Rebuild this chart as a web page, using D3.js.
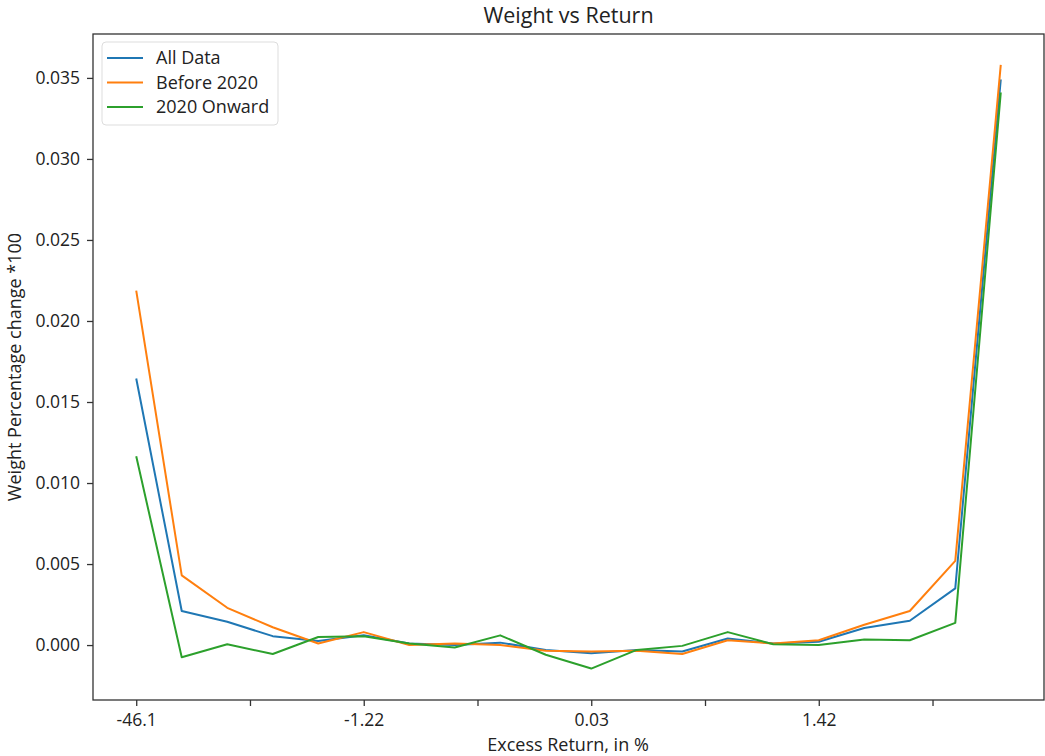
<!DOCTYPE html>
<html>
<head>
<meta charset="utf-8">
<script src="https://cdn.jsdelivr.net/npm/d3@7"></script>
<style>
  body { margin: 0; background: #fff; }
  text { font-family: "Open Sans", "Noto Sans", sans-serif; fill: #222; }
</style>
</head>
<body>
<div id="chart"></div>
<script>
// values, 20 return buckets
var allData = [0.01645, 0.0021, 0.00144, 0.00055, 0.00025, 0.0006, 0.0001, 0.0, 0.00015, -0.0003,
               -0.0005, -0.0003, -0.0004, 0.0004, 0.0001, 0.0002, 0.00105, 0.0015, 0.0035, 0.0349];
var before2020 = [0.02187, 0.0043, 0.0023, 0.0011, 0.0001, 0.0008, 0.0, 0.0001, 0.0, -0.00035,
                  -0.0004, -0.00035, -0.00055, 0.0003, 0.0001, 0.0003, 0.00125, 0.0021, 0.0052, 0.0358];
var onward2020 = [0.01165, -0.00075, 0.00005, -0.00055, 0.0005, 0.00055, 0.0001, -0.00015, 0.0006, -0.0006,
                  -0.00145, -0.0003, -0.00005, 0.0008, 0.00005, 0.0, 0.00035, 0.0003, 0.00137, 0.0341];
var seriesNames = ["All Data", "Before 2020", "2020 Onward"];
var seriesColors = ["#1f77b4", "#ff7f0e", "#2ca02c"];
var xTickPos = [0, 2.5, 5, 7.5, 10, 12.5, 15, 17.5];
var xTickLabels = ["-46.1", "", "-1.22", "", "0.03", "", "1.42", ""];
var yTicks = [0, 0.005, 0.01, 0.015, 0.02, 0.025, 0.03, 0.035];

var width = 1045, height = 756;
var margin = {left: 93, right: 1044, top: 34, bottom: 700};
var fontSize = 17.5;

var svg = d3.select("#chart").append("svg")
  .attr("width", width)
  .attr("height", height);

var n = allData.length;
var x = d3.scaleLinear()
  .domain([-0.05 * (n - 1), (n - 1) * 1.05])
  .range([margin.left, margin.right]);

var y = d3.scaleLinear()
  .domain([-0.00339, 0.03771])
  .range([margin.bottom, margin.top]);

var series = [allData, before2020, onward2020];

var line = d3.line()
  .x((d, i) => x(i))
  .y(d => y(d));

svg.append("g")
  .selectAll("path")
  .data(series).enter()
  .append("path")
  .attr("d", d => line(d))
  .attr("fill", "none")
  .attr("stroke", (d, i) => seriesColors[i])
  .attr("stroke-width", 2)
  .attr("stroke-linejoin", "round");

// axes
var xAxis = d3.axisBottom(x)
  .tickValues(xTickPos)
  .tickFormat((d, i) => xTickLabels[i])
  .tickSize(6)
  .tickPadding(8);

var yAxis = d3.axisLeft(y)
  .tickValues(yTicks)
  .tickFormat(d3.format(".3f"))
  .tickSize(6)
  .tickPadding(7);

var gx = svg.append("g")
  .attr("transform", `translate(0, ${margin.bottom})`)
  .call(xAxis);
var gy = svg.append("g")
  .attr("transform", `translate(${margin.left}, 0)`)
  .call(yAxis);

[gx, gy].forEach(function(g) {
  g.select(".domain").remove();
  g.selectAll(".tick line").attr("stroke", "#333").attr("stroke-width", 1.3);
  g.selectAll(".tick text")
    .attr("font-family", "Open Sans, Noto Sans, sans-serif")
    .attr("font-size", fontSize)
    .attr("fill", "#222");
});

// frame
svg.append("rect")
  .attr("x", margin.left)
  .attr("y", margin.top)
  .attr("width", margin.right - margin.left)
  .attr("height", margin.bottom - margin.top)
  .attr("fill", "none")
  .attr("stroke", "#333")
  .attr("stroke-width", 1.3);

// title and labels
svg.append("text")
  .attr("x", (margin.left + margin.right) / 2)
  .attr("y", 23)
  .attr("text-anchor", "middle")
  .attr("font-size", 21.5)
  .text("Weight vs Return");

svg.append("text")
  .attr("x", 568)
  .attr("y", 751)
  .attr("text-anchor", "middle")
  .attr("font-size", 18)
  .text("Excess Return, in %");

svg.append("text")
  .attr("transform", "translate(21, 367) rotate(-90)")
  .attr("text-anchor", "middle")
  .attr("font-size", 18)
  .text("Weight Percentage change *100");

// legend
var legend = svg.append("g").attr("transform", "translate(102, 42)");
legend.append("rect")
  .attr("width", 176)
  .attr("height", 83)
  .attr("rx", 4)
  .attr("fill", "#fff")
  .attr("fill-opacity", 0.8)
  .attr("stroke", "#ddd");

var items = legend.selectAll(".item")
  .data(seriesNames).enter()
  .append("g")
  .attr("class", "item")
  .attr("transform", (d, i) => `translate(0, ${16 + i * 24.5})`);

items.append("line")
  .attr("x1", 5).attr("x2", 41)
  .attr("y1", 0).attr("y2", 0)
  .attr("stroke", (d, i) => seriesColors[i])
  .attr("stroke-width", 2);

items.append("text")
  .attr("x", 54)
  .attr("y", 6)
  .attr("font-size", 18)
  .text(d => d);
</script>
</body>
</html>
